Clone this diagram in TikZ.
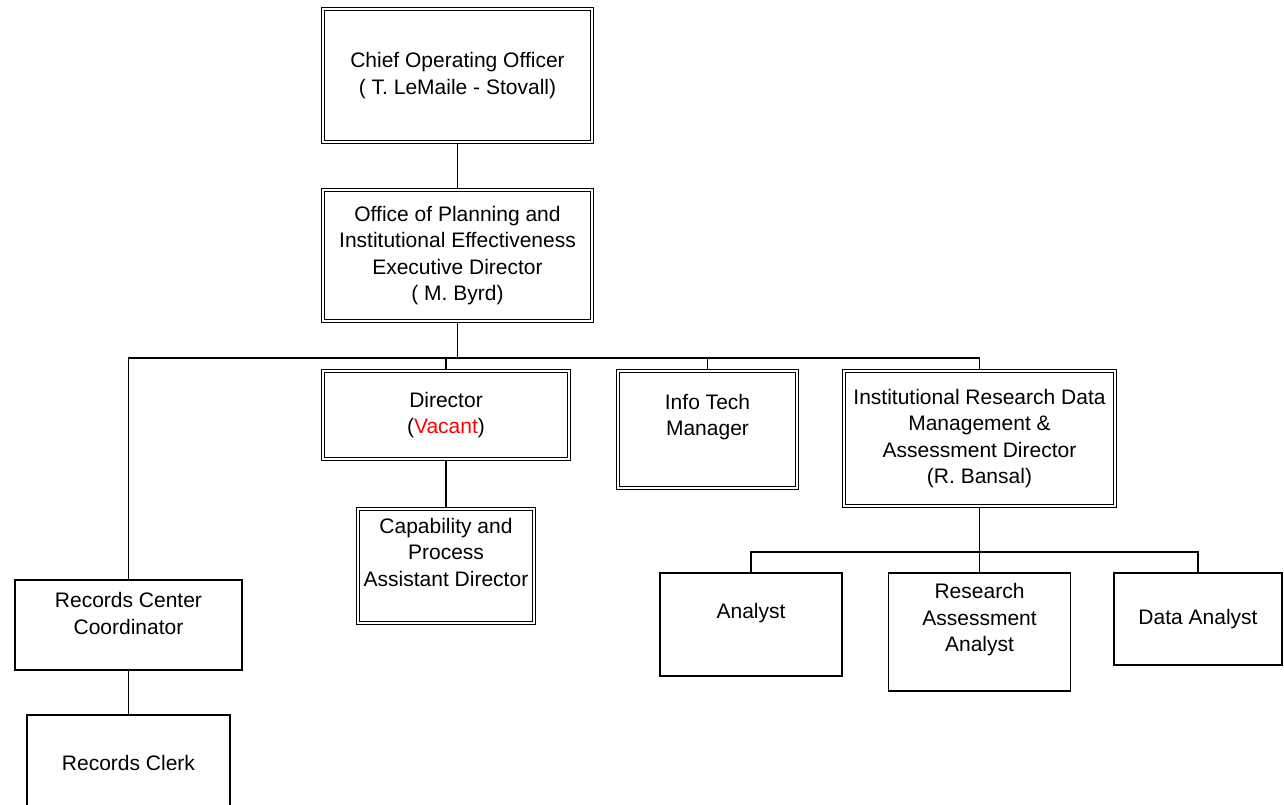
\documentclass[tikz,border=0pt]{standalone}
\usepackage{fontspec}
\setmainfont{Liberation Sans}
\usepackage{tikz}
\usetikzlibrary{positioning}

\begin{document}
\begin{tikzpicture}[x=1pt, y=-1pt, font=\fontsize{21}{26.5}\selectfont]

\tikzstyle{dkasse}=[rectangle, draw=black, double, line width=1.2pt, double distance=1.6pt, outer sep=2pt, fill=white, align=center, inner sep=0pt]
\tikzstyle{kasse}=[rectangle, draw=black, line width=1.8pt, outer sep=0.9pt, fill=white, align=center, inner sep=0pt]
\tikzstyle{tekst}=[align=center, inner sep=0pt]
\tikzstyle{linje}=[line width=1.6pt]

\useasboundingbox (0,0) rectangle (1284,804);

\node[dkasse, minimum width=269pt, minimum height=133pt] (coo) at (457.5,75.5) {Chief Operating Officer\\ ( T. LeMaile - Stovall)};
\node[dkasse, minimum width=269pt, minimum height=131pt] (ope) at (457.5,255.5) {Office of Planning and\\Institutional Effectiveness\\Executive Director\\( M. Byrd)};

\node[dkasse, minimum width=246pt, minimum height=88pt] (dir) at (446,415) {Director\\(\textcolor{red}{Vacant})};
\node[dkasse, minimum width=179pt, minimum height=117pt] (itm) at (707.5,429.5) {};
\node[tekst] (itmt) at (707.5,417) {Info Tech\\Manager};
\node[dkasse, minimum width=271pt, minimum height=135pt] (ird) at (979.5,438.5) {Institutional Research Data\\Management \&\\Assessment Director\\(R. Bansal)};

\node[dkasse, minimum width=176pt, minimum height=114pt] (cap) at (446,566) {};
\node[tekst] (capt) at (446,552) {Capability and\\Process\\Assistant Director};

\node[kasse, minimum width=227pt, minimum height=90pt] (rcc) at (128.5,625) {};
\node[tekst] (rcct) at (128.5,613.5) {Records Center\\Coordinator};
\node[kasse, minimum width=203pt, minimum height=125pt] (rcl) at (128.5,777.5) {};
\node[tekst] (rclt) at (128.5,763) {Records Clerk};

\node[kasse, minimum width=182pt, minimum height=103pt] (ana) at (751,624.5) {};
\node[tekst] (anat) at (751,613) {Analyst};
\node[kasse, minimum width=182pt, minimum height=118pt] (raa) at (979.5,632) {};
\node[tekst] (raat) at (979.5,620) {Research\\Assessment\\Analyst};
\node[kasse, minimum width=168pt, minimum height=92pt] (dan) at (1198,619) {Data Analyst};

% bus lines
\coordinate (buss) at (0,358);
\coordinate (buss2) at (0,552);

\draw[linje] (coo) -- (ope);
\draw[linje] (ope.south) -- (ope.south |- buss);
\draw[linje] (rcc.north) |- (ird.north |- buss) -- (ird.north);
\draw[linje] (dir.north) -- (dir.north |- buss);
\draw[linje] (itm.north) -- (itm.north |- buss);
\draw[linje] (dir) -- (cap);
\draw[linje] (rcc) -- (rcl);

\draw[linje] (ird.south) -- (raa.north);
\draw[linje] (ana.north) |- (dan.north |- buss2) -- (dan.north);

\end{tikzpicture}
\end{document}
